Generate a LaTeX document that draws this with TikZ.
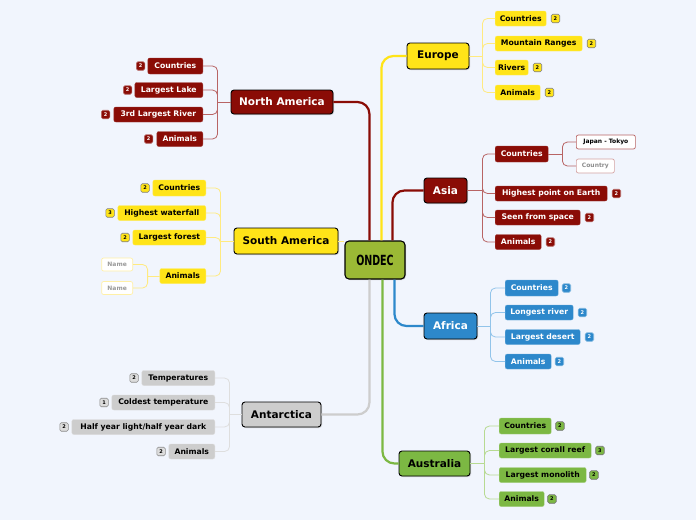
\documentclass[tikz,border=0pt]{standalone}
\usepackage{fontspec}
\setmainfont{DejaVu Sans}
\newfontfamily\condfont[FakeStretch=0.68]{DejaVu Sans}
\usetikzlibrary{shadows,positioning}
\definecolor{bg}{HTML}{F1F5FD}
\definecolor{cred}{HTML}{8A0C06}
\definecolor{cyel}{HTML}{FFE418}
\definecolor{cblue}{HTML}{2D88CB}
\definecolor{cgreen}{HTML}{7CB843}
\definecolor{cgrey}{HTML}{CDCDCD}
\definecolor{cond}{HTML}{9BB935}
\definecolor{lred}{HTML}{B86464}
\definecolor{lyel}{HTML}{FFEA80}
\definecolor{lblue}{HTML}{92C4EA}
\definecolor{lgreen}{HTML}{B7DA92}
\definecolor{lgrey}{HTML}{DEDEDE}
\tikzset{
  mainbox/.style={draw=black, line width=0.9pt, rounded corners=3pt, inner sep=1pt,
    font=\fontsize{10.5}{12}\selectfont\bfseries,
    drop shadow={opacity=0.35, shadow xshift=1pt, shadow yshift=-1pt}},
  subbox/.style={rounded corners=2pt, inner sep=1pt, minimum height=15pt,
    font=\fontsize{7.7}{9}\selectfont\bfseries},
  badge/.style={rounded corners=1.5pt, inner sep=0pt, minimum size=8.5pt, line width=0.6pt,
    font=\fontsize{5}{5}\selectfont\bfseries},
  redsub/.style={subbox, fill=cred, draw=cred!80!white, text=white},
  yelsub/.style={subbox, fill=cyel, draw=cyel!70!white, text=black},
  bluesub/.style={subbox, fill=cblue, draw=cblue!70!white, text=white},
  greensub/.style={subbox, fill=cgreen, draw=cgreen!70!white, text=black},
  greysub/.style={subbox, fill=cgrey, draw=cgrey!70!white, text=black},
  redbadge/.style={badge, fill=cred, draw=cred!60!white, text=white},
  yelbadge/.style={badge, fill=cyel, draw=black!50, text=black},
  bluebadge/.style={badge, fill=cblue, draw=cblue!60!white, text=white},
  greenbadge/.style={badge, fill=cgreen, draw=black!55, text=black},
  greybadge/.style={badge, fill=cgrey!70!white, draw=black!45, text=black},
  leaf/.style={rounded corners=2pt, inner sep=1pt, fill=white, line width=0.7pt,
    font=\fontsize{6}{7}\selectfont\bfseries},
  mainline/.style={line width=2.2pt, rounded corners=12pt},
  tree/.style={line width=0.8pt, rounded corners=5pt},
}
\begin{document}
\begin{tikzpicture}[x=1pt,y=-1pt]
\fill[bg] (0,0) rectangle (696,520);
\useasboundingbox (0,0) rectangle (696,520);

% ---- central node
\node[draw=black, line width=1.1pt, fill=cond, rounded corners=4pt, minimum width=60pt, minimum height=38pt,
  drop shadow={opacity=0.35, shadow xshift=1pt, shadow yshift=-1pt}, font=\condfont\fontsize{14}{16}\selectfont\bfseries]
  (ondec) at (375,260) {ONDEC};

% ---- main nodes
\node[mainbox, fill=cyel, minimum width=62pt, minimum height=26pt] (eu) at (438,56) {Europe};
\node[mainbox, fill=cred, text=white, minimum width=43pt, minimum height=25pt] (as) at (445.5,190.5) {Asia};
\node[mainbox, fill=cblue, text=white, minimum width=53pt, minimum height=26pt] (af) at (450.5,326) {Africa};
\node[mainbox, fill=cgreen, minimum width=71pt, minimum height=25pt] (au) at (434.5,463.5) {Australia};
\node[mainbox, fill=cred, text=white, minimum width=102pt, minimum height=24pt] (na) at (282,102) {North America};
\node[mainbox, fill=cyel, minimum width=104pt, minimum height=26pt] (sa) at (286,241) {South America};
\node[mainbox, fill=cgrey, minimum width=79pt, minimum height=25pt] (an) at (281.5,414.5) {Antarctica};

% ---- main connectors
\draw[mainline, cred] (na.east) -| ([xshift=25pt]ondec.north west);
\draw[mainline, cyel] (eu.west) -| ([xshift=37pt]ondec.north west);
\draw[mainline, cred] (as.west) -| ([xshift=48pt]ondec.north west);
\draw[mainline, cblue] (af.west) -| ([xshift=50pt]ondec.south west);
\draw[mainline, cgreen] (au.west) -| ([xshift=38pt]ondec.south west);
\draw[mainline, cgrey] (an.east) -| ([xshift=25pt]ondec.south west);
\draw[line width=1pt, lyel] (sa.east) -- (sa.east -| ondec.west);

% ---- Europe
\node[yelsub, anchor=west, minimum width=51pt] (eu1) at (495,18.5) {Countries};
\node[yelsub, anchor=west, minimum width=87pt] (eu2) at (495,43.5) {Mountain Ranges};
\node[yelsub, anchor=west, minimum width=33pt] (eu3) at (495,67.5) {Rivers};
\node[yelsub, anchor=west, minimum width=45pt] (eu4) at (495,92.5) {Animals};
\node[yelbadge, right=4.5pt of eu1] (eu1b) {2};
\node[yelbadge, right=4.5pt of eu2] (eu2b) {2};
\node[yelbadge, right=4.5pt of eu3] (eu3b) {2};
\node[yelbadge, right=4.5pt of eu4] (eu4b) {2};
\coordinate (eut) at ([xshift=13pt]eu.east);
\draw[tree, lyel] (eu.east) -- (eut);
\foreach \c in {eu1,eu2,eu3,eu4} \draw[tree, lyel] (eut) |- (\c.west);

% ---- Asia
\node[redsub, anchor=west, minimum width=53pt, minimum height=16pt] (as1) at (495,154) {Countries};
\node[redsub, anchor=west, minimum width=112pt] (as2) at (495,193.5) {Highest point on Earth};
\node[redsub, anchor=west, minimum width=85pt] (as3) at (495,217.5) {Seen from space};
\node[redsub, anchor=west, minimum width=46pt] (as4) at (495,242) {Animals};
\node[redbadge, right=4.5pt of as2] (as2b) {2};
\node[redbadge, right=4.5pt of as3] (as3b) {2};
\node[redbadge, right=4.5pt of as4] (as4b) {2};
\node[leaf, draw=lred, anchor=west, minimum width=59pt, minimum height=14pt, text=black] (as1a) at (576,142) {Japan - Tokyo};
\node[leaf, draw=lred!60!white, anchor=west, minimum width=38pt, minimum height=14pt, text=black!45] (as1c) at (576,166) {Country};
\coordinate (ast) at ([xshift=15pt]as.east);
\draw[tree, lred] (as.east) -- (ast);
\foreach \c in {as1,as2,as3,as4} \draw[tree, lred] (ast) |- (\c.west);
\coordinate (as1t) at ([xshift=14pt]as1.east);
\draw[tree, lred] (as1.east) -- (as1t);
\foreach \c in {as1a,as1c} \draw[tree, lred] (as1t) |- (\c.west);

% ---- Africa
\node[bluesub, anchor=west, minimum width=53pt, minimum height=16pt] (af1) at (505,288) {Countries};
\node[bluesub, anchor=west, minimum width=68pt] (af2) at (505,312.5) {Longest river};
\node[bluesub, anchor=west, minimum width=75pt] (af3) at (505,337) {Largest desert};
\node[bluesub, anchor=west, minimum width=46pt] (af4) at (505,361.5) {Animals};
\node[bluebadge, right=3.5pt of af1] (af1b) {2};
\node[bluebadge, right=4.5pt of af2] (af2b) {2};
\node[bluebadge, right=4.5pt of af3] (af3b) {2};
\node[bluebadge, right=3.5pt of af4] (af4b) {2};
\coordinate (aft) at ([xshift=13pt]af.east);
\draw[tree, lblue] (af.east) -- (aft);
\foreach \c in {af1,af2,af3,af4} \draw[tree, lblue] (aft) |- (\c.west);

% ---- Australia
\node[greensub, anchor=west, minimum width=52pt, minimum height=16pt] (au1) at (499,426) {Countries};
\node[greensub, anchor=west, minimum width=92pt] (au2) at (499,450.5) {Largest corall reef};
\node[greensub, anchor=west, minimum width=87pt] (au3) at (499,475) {Largest monolith};
\node[greensub, anchor=west, minimum width=45pt] (au4) at (499,499) {Animals};
\node[greenbadge, right=4pt of au1] (au1b) {2};
\node[greenbadge, right=4pt of au2] (au2b) {3};
\node[greenbadge, right=3pt of au3] (au3b) {2};
\node[greenbadge, right=3pt of au4] (au4b) {2};
\coordinate (aut) at ([xshift=14pt]au.east);
\draw[tree, lgreen] (au.east) -- (aut);
\foreach \c in {au1,au2,au3,au4} \draw[tree, lgreen] (aut) |- (\c.west);

% ---- North America
\node[redsub, anchor=east, minimum width=55pt, minimum height=16pt] (na1) at (203,66) {Countries};
\node[redsub, anchor=east, minimum width=68pt] (na2) at (203,90) {Largest Lake};
\node[redsub, anchor=east, minimum width=89pt] (na3) at (203,114.5) {3rd Largest River};
\node[redsub, anchor=east, minimum width=46pt] (na4) at (203,139) {Animals};
\node[redbadge, left=2.5pt of na1] (na1b) {2};
\node[redbadge, left=2.5pt of na2] (na2b) {2};
\node[redbadge, left=3.5pt of na3] (na3b) {2};
\node[redbadge, left=3.5pt of na4] (na4b) {2};
\coordinate (nat) at ([xshift=-13pt]na.west);
\draw[tree, lred] (na.west) -- (nat);
\foreach \c in {na1,na2,na3,na4} \draw[tree, lred] (nat) |- (\c.east);

% ---- South America
\node[yelsub, anchor=east, minimum width=53pt, minimum height=16pt] (sa1) at (206,188) {Countries};
\node[yelsub, anchor=east, minimum width=88pt] (sa2) at (206,213) {Highest waterfall};
\node[yelsub, anchor=east, minimum width=73pt] (sa3) at (206,237.5) {Largest forest};
\node[yelsub, anchor=east, minimum width=46pt] (sa4) at (206,276) {Animals};
\node[yelbadge, left=3pt of sa1] (sa1b) {2};
\node[yelbadge, left=3pt of sa2] (sa2b) {3};
\node[yelbadge, left=3pt of sa3] (sa3b) {2};
\node[leaf, draw=lyel!70!white, anchor=east, minimum width=31pt, minimum height=13pt, text=black!40] (sa4a) at (133,264.5) {Name};
\node[leaf, draw=lyel!70!white, anchor=east, minimum width=31pt, minimum height=13pt, text=black!40] (sa4c) at (133,288) {Name};
\coordinate (sat) at ([xshift=-13pt]sa.west);
\draw[tree, lyel] (sa.west) -- (sat);
\foreach \c in {sa1,sa2,sa3,sa4} \draw[tree, lyel] (sat) |- (\c.east);
\coordinate (sa4t) at ([xshift=-12pt]sa4.west);
\draw[tree, lyel] (sa4.west) -- (sa4t);
\foreach \c in {sa4a,sa4c} \draw[tree, lyel] (sa4t) |- (\c.east);

% ---- Antarctica
\node[greysub, anchor=east, minimum width=73pt] (an1) at (215,378) {Temperatures};
\node[greysub, anchor=east, minimum width=103pt] (an2) at (215,402.5) {Coldest temperature};
\node[greysub, anchor=east, minimum width=143pt] (an3) at (215,427) {Half year light/half year dark};
\node[greysub, anchor=east, minimum width=46pt] (an4) at (215,451.5) {Animals};
\node[greybadge, left=3pt of an1] (an1b) {2};
\node[greybadge, left=3pt of an2] (an2b) {1};
\node[greybadge, left=3pt of an3] (an3b) {2};
\node[greybadge, left=3pt of an4] (an4b) {2};
\coordinate (ant) at ([xshift=-12pt]an.west);
\draw[tree, lgrey] (an.west) -- (ant);
\foreach \c in {an1,an2,an3,an4} \draw[tree, lgrey] (ant) |- (\c.east);
\end{tikzpicture}
\end{document}
